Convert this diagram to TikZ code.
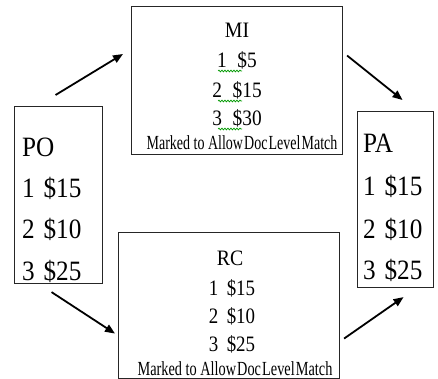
\documentclass[tikz,border=0pt]{standalone}
\usepackage{fontspec}
\setmainfont{Liberation Serif}
\usetikzlibrary{arrows.meta,decorations.pathmorphing}
\newcommand{\narrowtxt}[2]{\scalebox{#1}[1]{#2}}
\begin{document}
\begin{tikzpicture}[x=1pt,y=-1pt,
  box/.style={draw=black!85, line width=1.1pt, anchor=north west, inner sep=0pt},
  big/.style={font=\fontsize{28}{34}\selectfont, anchor=base west, inner sep=0pt},
  mid/.style={font=\fontsize{22}{26}\selectfont, anchor=base, inner sep=0pt},
  note/.style={font=\fontsize{20}{24}\selectfont, anchor=base, inner sep=0pt},
  arr/.style={line width=1.8pt, -{Triangle[length=10pt,width=8pt]}},
  squig/.style={draw=green!60!black, line width=0.7pt, decorate,
    decoration={snake, amplitude=0.9pt, segment length=3pt}}]
\useasboundingbox (0,0) rectangle (438,379);

% boxes
\node[box, minimum width=88pt,  minimum height=177pt] (po) at (14,106) {};
\node[box, minimum width=211pt, minimum height=148pt] (mi) at (131,6) {};
\node[box, minimum width=221pt, minimum height=146pt] (rc) at (118,232) {};
\node[box, minimum width=76pt,  minimum height=176pt] (pa) at (357,111) {};

% PO
\node[big] (pot) at (22,157) {\narrowtxt{0.9}{PO}};
\node[big] (po1) at (22,197) {\narrowtxt{0.9}{1\hspace{0.35em}\$15}};
\node[big] (po2) at (22,238) {\narrowtxt{0.9}{2\hspace{0.35em}\$10}};
\node[big] (po3) at (22,280) {\narrowtxt{0.9}{3\hspace{0.35em}\$25}};

% PA
\node[big] (pat) at (363,153) {\narrowtxt{0.9}{PA}};
\node[big] (pa1) at (363,195) {\narrowtxt{0.9}{1\hspace{0.35em}\$15}};
\node[big] (pa2) at (363,238) {\narrowtxt{0.9}{2\hspace{0.35em}\$10}};
\node[big] (pa3) at (363,279) {\narrowtxt{0.9}{3\hspace{0.35em}\$25}};

% MI
\node[mid] (mit) at (237,38) {\narrowtxt{0.9}{MI}};
\node[mid] (mi1) at (237,68) {\narrowtxt{0.88}{1\hspace{0.55em}\$5}};
\node[mid] (mi2) at (237,98) {\narrowtxt{0.88}{2\hspace{0.55em}\$15}};
\node[mid] (mi3) at (237,126) {\narrowtxt{0.88}{3\hspace{0.55em}\$30}};
\node[note] (mim) at (242,150) {\narrowtxt{0.7}{Marked to Allow\hspace{0.08em}Doc\hspace{0.08em}Level\hspace{0.08em}Match}};
\draw[squig] (218,71) -- (242,71);
\draw[squig] (218,101) -- (242,101);
\draw[squig] (218,129) -- (242,129);

% RC
\node[mid] (rct) at (230,265) {\narrowtxt{0.9}{RC}};
\node[mid] (rc1) at (232,295) {\narrowtxt{0.86}{1\hspace{0.45em}\$15}};
\node[mid] (rc2) at (232,323) {\narrowtxt{0.86}{2\hspace{0.45em}\$10}};
\node[mid] (rc3) at (232,351) {\narrowtxt{0.86}{3\hspace{0.45em}\$25}};
\node[note] (rcm) at (235,375) {\narrowtxt{0.715}{Marked to Allow\hspace{0.08em}Doc\hspace{0.08em}Level\hspace{0.08em}Match}};

% arrow ends
\coordinate (a1s) at ([shift={(-3,-11)}]po.north);
\coordinate (a1e) at ([shift={(-8,48)}]mi.north west);
\coordinate (a2s) at ([shift={(-7,8)}]po.south);
\coordinate (a2e) at ([shift={(-3,28)}]rc.west);
\coordinate (a3s) at ([shift={(4,33)}]rc.east);
\coordinate (a3e) at ([shift={(8,9)}]pa.south);
\coordinate (a4s) at ([shift={(4,-25)}]mi.east);
\coordinate (a4e) at ([shift={(7,-11)}]pa.north);

\draw[arr] (a1s) -- (a1e);
\draw[arr] (a2s) -- (a2e);
\draw[arr] (a3s) -- (a3e);
\draw[arr] (a4s) -- (a4e);
\end{tikzpicture}
\end{document}
